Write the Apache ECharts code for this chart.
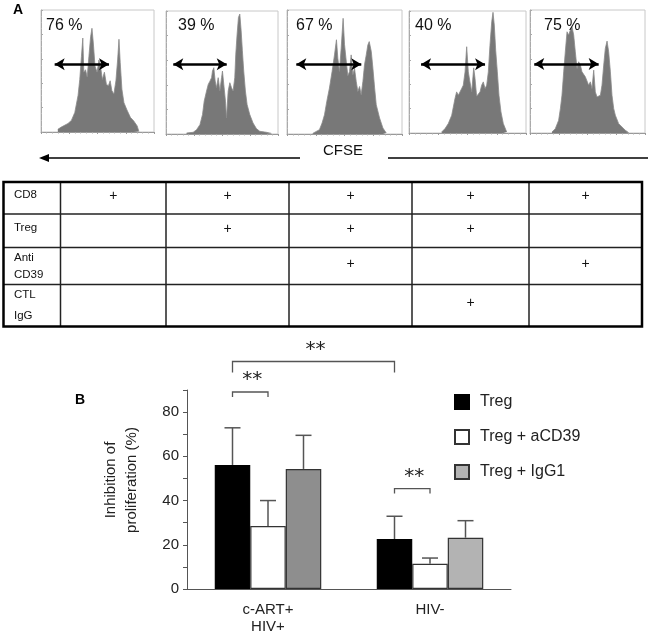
<!DOCTYPE html>
<html><head><meta charset="utf-8">
<script src="https://cdn.jsdelivr.net/npm/echarts@6/dist/echarts.min.js"></script>
<style>html,body{margin:0;padding:0;background:#fff}#c{width:652px;height:635px}</style>
</head><body><div id="c"></div>
<script>
// ---------- DATA ----------
// Panel A: CFSE histograms, [channel (0-100 % of scale), relative count (0-100)]
const hist1 = [[14.9,2.2],[17.9,4],[23.9,7],[26.9,9.5],[29.9,16],[32.8,30],[34.3,43],[35.8,62],[37,77],[37.9,49],[39.4,51],[40.9,45],[42.4,62],[43.9,78],[45.1,85],[46.3,73],[47.8,54],[49.6,49],[51.3,59],[52.8,53],[54.3,43],[56.1,49],[57.9,39],[59.7,38],[61.2,42],[62.7,34],[64.5,31],[66.3,42],[67.8,59],[69,76],[70.1,57],[71.6,35],[73.4,24],[76.1,18],[79.1,12],[82.1,9],[85.1,5],[86.6,0.5]];
const hist2 = [[18.4,0.8],[24.3,1.4],[27.3,3.5],[30.3,7.6],[32.6,15.8],[34.1,26.7],[36.2,34.9],[37.7,40.3],[39.2,42.9],[40.7,45.8],[41.5,51.2],[42.7,53.9],[43.9,43.1],[45.1,37.6],[46.6,45.8],[48.1,34.9],[49.6,45.8],[50.4,51.2],[51.6,40.3],[53.1,26.7],[54,13],[55.5,34.9],[57,41.7],[58.5,37.6],[59.9,34.9],[61.4,45.8],[62.3,64.9],[63.5,81.2],[64.7,94.8],[65.9,97.5],[67.1,83.9],[68.2,67.6],[69.4,51.2],[70.9,34.9],[72.4,24],[74.8,15.8],[77.7,9],[80.7,4.4],[83.7,2.2],[89.6,1.4],[94.1,0.5]];
const hist3 = [[22.4,0.5],[28.2,3.5],[30.5,8.8],[32.6,15.5],[34.6,26.3],[36.9,37],[39.2,50.4],[41.3,63.8],[43,76],[44.2,61.1],[45.6,50.4],[47.1,69.2],[48.8,93.3],[50,72.4],[51.5,58.9],[52.9,46.9],[54.4,50.4],[55.8,63.8],[57.3,47.7],[58.7,53.1],[60.2,42.4],[61.6,34.3],[63.1,38.3],[64.5,31.6],[66,42.4],[67.4,55.8],[68.9,63.8],[70.3,71.8],[71.5,74.5],[73.3,66.5],[74.7,53.1],[76.2,37],[77.6,23.6],[80.5,12.9],[83.4,4.8],[86.3,0.8]];
const hist4 = [[27.9,0.8],[30.8,3.6],[33.6,7.7],[36.5,14.5],[39.3,28.2],[40.7,33.7],[42.2,31],[43.6,32.3],[45,36.4],[46.4,39.2],[47.9,50.1],[49.3,70.7],[50.7,50.1],[52.1,41.9],[53.6,33.7],[55.3,53.4],[56.4,44.9],[57.8,30.1],[59.3,28.5],[60.7,33.7],[62.1,39.2],[63.5,41.9],[65,36.4],[66.4,39.2],[67.8,50.1],[69.2,71.8],[70.7,91.2],[71.8,98.9],[72.9,88.5],[74.1,67.7],[75.5,50.1],[76.9,30.9],[78.6,17.3],[80.6,7.7],[83.5,0.8]];
const hist5 = [[19.1,0.8],[22,3.5],[24.9,10.3],[26.4,19.8],[27.8,30.7],[29.3,49.7],[30.7,66],[32.2,82.3],[33.6,79.6],[35.1,83.7],[36.5,86.4],[38,79.6],[39.4,66],[40.9,52.4],[42.3,57.9],[43.8,55.2],[45.2,49.7],[46.7,51.1],[48.1,45.7],[49.6,44.3],[51,38.9],[52.5,41.6],[53.9,36.1],[55.4,51.1],[56.8,33.4],[58.3,29.3],[59.7,28],[61.2,30.7],[62.6,38.9],[64.1,55.2],[65.5,68.8],[67,74.7],[68.4,66],[69.9,49.7],[71.3,30.7],[72.8,19.8],[74.2,14.4],[77.1,7.6],[80,4.9],[82.9,2.2],[85.8,0.3]];
const histPercent = ['76 %','39 %','67 %','40 %','75 %'];
const gateFrom = [12.1, 6.5, 8.1, 10.3, 3.7];
const gateTo = [60.2, 54.2, 64.6, 65.0, 59.7];
const gateLevel = [55.5, 56.7, 56.2, 56.3, 56.1];
const axisCaption = 'CFSE';
// Condition table
const tableRowLabels = ['CD8', 'Treg', 'Anti\nCD39', 'CTL\nIgG'];
const tablePlus = [
  [1,1,1,1,1],
  [0,1,1,1,0],
  [0,0,1,0,1],
  [0,0,0,1,0]
];
// Panel B
const categories = ['c-ART+\nHIV+', 'HIV-'];
const seriesNames = ['Treg', 'Treg + aCD39', 'Treg + IgG1'];
const tregMean = [56.1, 22.6];
const tregUpper = [72.9, 32.9];
const acd39Mean = [28.5, 11.4];
const acd39Upper = [40.0, 14.0];
const igg1Mean = [54.3, 23.2];
const igg1Upper = [69.5, 30.9];
const yAxisTitle = 'Inhibition of\nproliferation (%)';
// significance: [category, series] -> [category, series], at y level (axis units)
const sigFrom = [[0,0],[0,0],[1,0]];
const sigTo = [[1,0],[0,1],[1,1]];
const sigLevel = [102.9, 89.1, 45.4];
const sigText = ['**','**','**'];

// ---------- LAYOUT / STYLE ----------
const FONT = "'Liberation Sans', Arial, Helvetica, sans-serif";
const histFrames = [[41,10,154,132],[166,11,278,134],[287,10,402,134],[409,11,526,133],[530,10,645,133]];
const BAR_W = 35.5, CAP_W = 16;
const sigDrop = [11, 5, 5];
const barColors = ['#000000', '#ffffff', '#8e8e8e'];
const barColorsByCat = [['#000000','#000000'],['#ffffff','#ffffff'],['#8e8e8e','#b3b3b3']];

const chart = echarts.init(document.getElementById('c'), null, {renderer: 'canvas'});
const hists = [hist1, hist2, hist3, hist4, hist5];
const grids = [], xAxes = [], yAxes = [], series = [];

hists.forEach((h, i) => {
  const f = histFrames[i];
  grids.push({left: f[0], top: f[1], width: f[2]-f[0], height: f[3]-f[1], show: true,
    borderColor: '#c8c8c8', borderWidth: 1, backgroundColor: 'transparent'});
  xAxes.push({gridIndex: i, type: 'value', min: 0, max: 100, interval: 25,
    axisLine: {show: true, lineStyle: {color: '#999'}},
    axisTick: {show: true, length: 2, lineStyle: {color: '#999'}},
    minorTick: {show: true, splitNumber: 5, length: 1.5, lineStyle: {color: '#aaa'}},
    axisLabel: {show: false}, splitLine: {show: false}});
  yAxes.push({gridIndex: i, type: 'value', min: 0, max: 100, interval: 20,
    axisLine: {show: true, lineStyle: {color: '#aaa'}},
    axisTick: {show: true, inside: true, length: 2, lineStyle: {color: '#aaa'}},
    minorTick: {show: true, splitNumber: 4, length: 1, lineStyle: {color: '#bbb'}},
    axisLabel: {show: false}, splitLine: {show: false}});
  series.push({type: 'line', xAxisIndex: i, yAxisIndex: i, data: h, symbol: 'none', silent: true,
    lineStyle: {width: 0.8, color: '#8a8a8a'}, areaStyle: {color: '#787878', opacity: 1},
    markLine: {silent: true, symbol: ['arrow','arrow'], symbolSize: [9, 10], precision: 3,
      label: {show: false}, lineStyle: {color: '#000', width: 2.5, type: 'solid'},
      data: [[{coord: [gateFrom[i], gateLevel[i]]}, {coord: [gateTo[i], gateLevel[i]]}]]}
  });
});

// Bar chart grid (index 5)
grids.push({left: 187, right: 141, top: 390, bottom: 46});
xAxes.push({gridIndex: 5, type: 'category', data: categories,
  axisLine: {lineStyle: {color: '#555', width: 1}},
  axisTick: {length: 4, lineStyle: {color: '#555'}},
  axisLabel: {interval: 0, fontFamily: FONT, fontSize: 15, color: '#222', margin: 12, lineHeight: 17}});
yAxes.push({gridIndex: 5, type: 'value', min: 0, max: 90, interval: 10,
  axisLine: {show: true, lineStyle: {color: '#555', width: 1}},
  axisTick: {show: true, length: 4, lineStyle: {color: '#555'}},
  axisLabel: {fontFamily: FONT, fontSize: 15, color: '#222', margin: 8,
    formatter: v => (v % 20 === 0 ? String(v) : '')},
  splitLine: {show: false}});

const means = [tregMean, acd39Mean, igg1Mean];
const uppers = [tregUpper, acd39Upper, igg1Upper];
means.forEach((m, s) => {
  series.push({type: 'bar', name: seriesNames[s], xAxisIndex: 5, yAxisIndex: 5,
    barWidth: BAR_W, barGap: '0%',
    itemStyle: {color: s === 2 ? '#b3b3b3' : barColors[s], borderColor: s === 0 ? '#000' : '#333', borderWidth: 1.2},
    data: m.map((v, c) => ({value: v, itemStyle: {color: barColorsByCat[s][c]}}))});
});
means.forEach((m, s) => {
  series.push({type: 'custom', xAxisIndex: 5, yAxisIndex: 5, silent: true, z: 3,
    data: m.map((v, c) => [c, v, uppers[s][c]]),
    renderItem: (params, api) => {
      const p0 = api.coord([api.value(0), api.value(1)]);
      const p1 = api.coord([api.value(0), api.value(2)]);
      const x = p0[0] + (s - 1) * BAR_W;
      const st = {stroke: '#555', lineWidth: 1.5};
      return {type: 'group', children: [
        {type: 'line', shape: {x1: x, y1: p0[1], x2: x, y2: p1[1]}, style: st},
        {type: 'line', shape: {x1: x - CAP_W/2, y1: p1[1], x2: x + CAP_W/2, y2: p1[1]}, style: st}
      ]};
    }});
});
// significance brackets
series.push({type: 'custom', xAxisIndex: 5, yAxisIndex: 5, silent: true, clip: false, z: 4,
  data: sigLevel.map((lv, k) => [sigFrom[k][0], sigFrom[k][1], sigTo[k][0], sigTo[k][1], lv, k]),
  renderItem: (params, api) => {
    const k = api.value(5);
    const a = api.coord([api.value(0), api.value(4)]);
    const b = api.coord([api.value(2), api.value(4)]);
    const xa = a[0] + (api.value(1) - 1) * BAR_W;
    const xb = b[0] + (api.value(3) - 1) * BAR_W;
    const y = a[1], d = sigDrop[k];
    return {type: 'group', children: [
      {type: 'polyline', shape: {points: [[xa, y + d], [xa, y], [xb, y], [xb, y + d]]},
        style: {stroke: '#555', lineWidth: 1.3, fill: null}},
      {type: 'text', x: (xa + xb) / 2 + 2, y: y - 2,
        style: {text: sigText[k], fontFamily: "'DejaVu Sans', sans-serif", fontSize: 20, fill: '#222',
          align: 'center', verticalAlign: 'bottom'}}
    ]};
  }});

// ---------- GRAPHIC (labels, table, CFSE arrow) ----------
const graphic = [];
graphic.push({type: 'text', x: 13, y: 3, style: {text: 'A', font: 'bold 14px ' + FONT, fill: '#000'}});
graphic.push({type: 'text', x: 75, y: 393, style: {text: 'B', font: 'bold 14px ' + FONT, fill: '#000'}});
const pctOffsets = [5, 12, 9, 6, 14];
histPercent.forEach((t, i) => {
  graphic.push({type: 'text', x: histFrames[i][0] + pctOffsets[i], y: 26, z: 10,
    style: {text: t, font: '16px ' + FONT, fill: '#111', verticalAlign: 'middle'}});
});
// CFSE arrow
graphic.push({type: 'line', shape: {x1: 46, y1: 158, x2: 300, y2: 158}, style: {stroke: '#000', lineWidth: 1.5}});
graphic.push({type: 'polygon', shape: {points: [[39, 158], [49, 154], [49, 162]]}, style: {fill: '#000'}});
graphic.push({type: 'line', shape: {x1: 388, y1: 158, x2: 648, y2: 158}, style: {stroke: '#000', lineWidth: 1.5}});
graphic.push({type: 'text', x: 343, y: 151, style: {text: axisCaption, font: '15px ' + FONT, fill: '#111', align: 'center', verticalAlign: 'middle'}});
// table
const colX = [3.5, 60.5, 166, 289, 412, 529, 642];
const rowY = [182, 214, 247.5, 284.5, 326.5];
for (let c = 1; c < colX.length - 1; c++)
  graphic.push({type: 'line', shape: {x1: colX[c], y1: rowY[0], x2: colX[c], y2: rowY[rowY.length-1]}, style: {stroke: '#222', lineWidth: 1.5}});
for (let r = 1; r < rowY.length - 1; r++)
  graphic.push({type: 'line', shape: {x1: colX[0], y1: rowY[r], x2: colX[colX.length-1], y2: rowY[r]}, style: {stroke: '#222', lineWidth: 1.5}});
graphic.push({type: 'rect', shape: {x: colX[0], y: rowY[0], width: colX[6]-colX[0], height: rowY[4]-rowY[0]}, style: {stroke: '#000', lineWidth: 2.5, fill: null}});
const labelY = [[195], [228], [258, 275], [295, 316]];
tableRowLabels.forEach((t, r) => {
  t.split('\n').forEach((line, j) => {
    graphic.push({type: 'text', x: 14, y: labelY[r][j], style: {text: line, font: '11.5px ' + FONT, fill: '#111', verticalAlign: 'middle'}});
  });
  tablePlus[r].forEach((p, c) => {
    if (!p) return;
    graphic.push({type: 'text', x: (colX[c+1] + colX[c+2]) / 2, y: (rowY[r] + rowY[r+1]) / 2 - 2,
      style: {text: '+', font: '14px ' + FONT, fill: '#111', align: 'center', verticalAlign: 'middle'}});
  });
});
// y axis title for panel B
graphic.push({type: 'text', x: 121, y: 480, rotation: Math.PI / 2,
  style: {text: yAxisTitle, font: '15px ' + FONT, lineHeight: 21, fill: '#222', align: 'center', verticalAlign: 'middle'}});

chart.setOption({
  animation: false,
  grid: grids, xAxis: xAxes, yAxis: yAxes, series: series,
  legend: {data: seriesNames, orient: 'vertical', left: 449, top: 389, itemWidth: 14, itemHeight: 14, itemGap: 19,
    icon: 'rect', selectedMode: false,
    textStyle: {fontFamily: FONT, fontSize: 16, color: '#222', padding: [0, 0, 0, 6]}},
  graphic: graphic
});
</script></body></html>
